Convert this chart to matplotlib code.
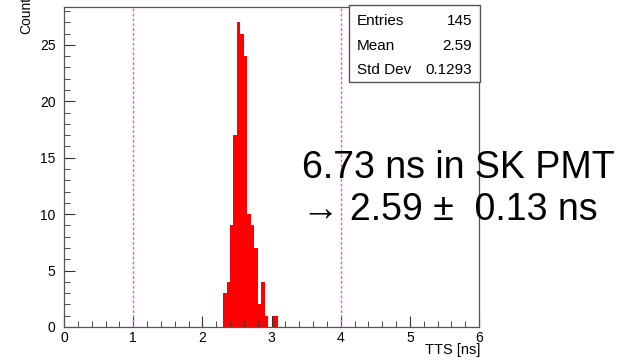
import numpy as np
import matplotlib.pyplot as plt

plt.rcParams['font.family'] = ['Liberation Sans', 'DejaVu Sans']

# TTS histogram, 0.05 ns bins starting at 2.30 ns
bin_edges = [2.30, 2.35, 2.40, 2.45, 2.50, 2.55, 2.60, 2.65, 2.70,
             2.75, 2.80, 2.85, 2.90, 2.95, 3.00, 3.05, 3.10]
counts = [3, 4, 9, 17, 27, 26, 24, 10, 9, 7, 2, 4, 1, 0, 1, 1]
marker_lines = [1, 4]
stats_names = ['Entries', 'Mean', 'Std Dev']
stats_vals = ['145', '2.59', '0.1293']

W, H = 619, 361
fig = plt.figure(figsize=(W / 100, H / 100), dpi=100)

def fx(px):
    return px / W

def fy(py):
    return 1 - py / H

ax = fig.add_axes([fx(64), fy(327), fx(479) - fx(64), fy(7) - fy(327)])

ax.stairs(counts, bin_edges, fill=True, color='#ff0000', linewidth=0)
for x in marker_lines:
    ax.axvline(x, color='#ff44ff', lw=1, ls=(0, (2, 1.5)))

ax.set_xlim(0, 6)
ax.set_ylim(0, 28.35)
ax.set_xticks(range(7))
ax.set_xticks(np.arange(0, 6.01, 0.2), minor=True)
ax.set_yticks(range(0, 26, 5))
ax.set_yticks(range(0, 29), minor=True)
ax.tick_params(which='both', direction='in', top=False, right=False,
               labelsize=10, color='#333333')
ax.tick_params(which='major', length=8)
ax.tick_params(which='minor', length=4)
ax.tick_params(axis='x', pad=3)
ax.tick_params(axis='y', pad=6)
for s in ax.spines.values():
    s.set_color('#555555')
    s.set_linewidth(0.9)

fig.text(fx(480), fy(354), 'TTS [ns]', ha='right', va='baseline', fontsize=10.5)
# y title sits partly above the canvas, like the original
fig.text(fx(33), fy(34), 'Counts', rotation=90, ha='right', va='bottom',
         fontsize=10)

# stats box
box = plt.Rectangle((fx(349), fy(82)), fx(480) - fx(349), fy(5) - fy(82),
                    transform=fig.transFigure, facecolor='white',
                    edgecolor='#555555', lw=1, zorder=5)
fig.add_artist(box)
rows_y = [25, 50, 74]
for name, val, yy in zip(stats_names, stats_vals, rows_y):
    fig.text(fx(357), fy(yy), name, ha='left', va='baseline', fontsize=11, zorder=6)
    fig.text(fx(472), fy(yy), val, ha='right', va='baseline', fontsize=11, zorder=6)

fig.text(fx(302), fy(178), '6.73 ns in SK PMT', ha='left', va='baseline',
         fontsize=27)
fig.text(fx(302), fy(220), '\u2192 2.59 \u00b1  0.13 ns', ha='left', va='baseline',
         fontsize=27)

fig.savefig('out.png', dpi=100)
